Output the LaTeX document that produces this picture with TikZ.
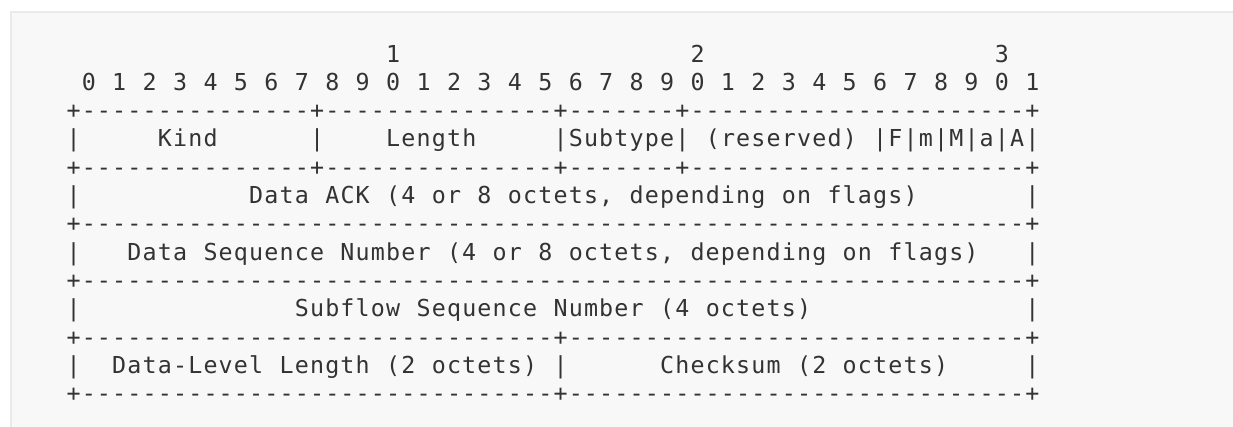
\documentclass[tikz,border=0pt]{standalone}
\usepackage{fontspec}
\newfontfamily\diagfont{DejaVu Sans Mono}
\definecolor{ink}{HTML}{333333}
\definecolor{panelfill}{HTML}{F8F8F8}
\definecolor{panelline}{HTML}{EAEAEA}
\newlength\colw
\setlength\colw{11.415pt}
\ExplSyntaxOn
\NewDocumentCommand\cells{m}{\str_set:Nx\l_tmpa_str{#1}\str_map_inline:Nn\l_tmpa_str{\makebox[\colw]{##1}}}
\ExplSyntaxOff
\tikzset{ascii/.style={anchor=base west,inner sep=0pt,text=ink,font=\diagfont\fontsize{17.5pt}{17.5pt}\selectfont}}
\begin{document}
\begin{tikzpicture}[x=11.415pt,y=-21.225pt]
            \useasboundingbox (-4.317,-2.191) rectangle (76.695,12.862);
            \draw[panelline,fill=panelfill,line width=1.1pt](-3.607,-1.774) rectangle (80,14);
            \foreach \d/\c in {1/21,2/41,3/61}
                \node[ascii] (tens\d) at (\c,0){\cells{\d}};
            \node[ascii] (bits) at (1,1){\cells{0 1 2 3 4 5 6 7 8 9 0 1 2 3 4 5 6 7 8 9 0 1 2 3 4 5 6 7 8 9 0 1}};
            \foreach \r in {2,4}
                \node[ascii] (rule\r) at (0,\r){\cells{+---------------+---------------+-------+----------------------+}};
            \foreach \c in {0,16}
                \node[ascii] (kbar\c) at (\c,3){\cells{|}};
            \node[ascii] (kind) at (6,3){\cells{Kind}};
            \node[ascii] (length) at (21,3){\cells{Length}};
            \node[ascii] (subtype) at (32,3){\cells{|Subtype|}};
            \node[ascii] (reserved) at (42,3){\cells{(reserved)}};
            \node[ascii] (flags) at (53,3){\cells{|F|m|M|a|A|}};
            \foreach \r in {6,8}
                \node[ascii] (rule\r) at (0,\r){\cells{+--------------------------------------------------------------+}};
            \foreach \r in {10,12}
                \node[ascii] (rule\r) at (0,\r){\cells{+-------------------------------+------------------------------+}};
            \foreach \r in {5,7,9,11}{
                \node[ascii] (lbar\r) at (0,\r){\cells{|}};
                \node[ascii] (rbar\r) at (63,\r){\cells{|}};
            }
            \node[ascii] (dataack) at (12,5){\cells{Data ACK (4 or 8 octets, depending on flags)}};
            \node[ascii] (dataseq) at (4,7){\cells{Data Sequence Number (4 or 8 octets, depending on flags)}};
            \node[ascii] (subseq) at (15,9){\cells{Subflow Sequence Number (4 octets)}};
            \node[ascii] (dlen) at (3,11){\cells{Data-Level Length (2 octets)}};
            \node[ascii] (mbar11) at (32,11){\cells{|}};
            \node[ascii] (checksum) at (39,11){\cells{Checksum (2 octets)}};
\end{tikzpicture}
\end{document}
